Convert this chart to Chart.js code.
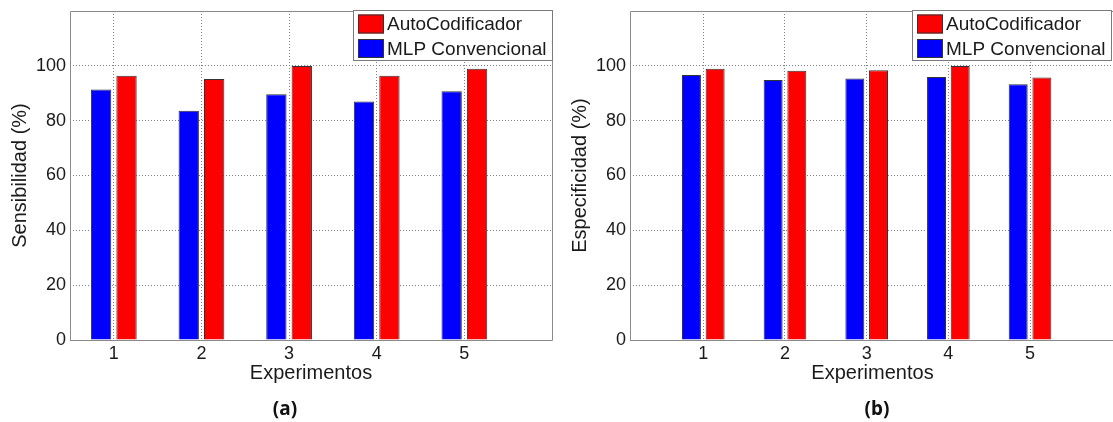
<!DOCTYPE html>
<html>
<head>
<meta charset="utf-8">
<script src="https://cdn.jsdelivr.net/npm/chart.js@4.4.1/dist/chart.umd.min.js"></script>
<style>
html, body { margin: 0; padding: 0; background: #fff; overflow: hidden; width: 1113px; height: 422px; }
.panel { position: absolute; top: 0; height: 422px; }
#panelA { left: 0; width: 560px; }
#panelB { left: 560px; width: 580px; }
</style>
</head>
<body>
<div class="panel" id="panelA"><canvas id="chartA"></canvas></div>
<div class="panel" id="panelB"><canvas id="chartB"></canvas></div>
<script>
// data
var experimentos = [1, 2, 3, 4, 5];
var sensAuto = [96.4, 95.2, 99.9, 96.4, 98.9];
var sensMLP  = [91.4, 83.6, 89.6, 87.0, 90.7];
var espAuto  = [98.9, 98.2, 98.4, 99.9, 95.7];
var espMLP   = [96.7, 94.8, 95.4, 95.9, 93.3];
var yTicks = [0, 20, 40, 60, 80, 100];

var FONT = '"Liberation Sans", Arial, sans-serif';
var TEXT = '#1a1a1a';

// frame round the plot area (right side is cut off in panel b)
var plotBox = {
  id: 'plotBox',
  beforeDatasetsDraw: function(chart, args, opts) {
    var a = chart.chartArea, ctx = chart.ctx;
    var l = Math.round(a.left) + 0.5, t = Math.round(a.top) + 0.5;
    var r = Math.round(a.right) + 0.5, b = Math.round(a.bottom) + 0.5;
    ctx.save();
    ctx.strokeStyle = '#8a8a8a';
    ctx.lineWidth = 1;
    ctx.beginPath();
    ctx.moveTo(r, t); ctx.lineTo(l, t); ctx.lineTo(l, b); ctx.lineTo(r, b);
    if (!opts.openRight) ctx.lineTo(r, t);
    ctx.stroke();
    ctx.restore();
  }
};

// boxed legend in the top right corner (matlab style)
var boxLegend = {
  id: 'boxLegend',
  afterDraw: function(chart, args, opts) {
    var ctx = chart.ctx, a = chart.chartArea;
    var items = chart.data.datasets.slice().reverse();
    ctx.save();
    ctx.font = '19px ' + FONT;
    var tw = Math.max.apply(null, items.map(function(d) { return ctx.measureText(d.label).width; }));
    var w = Math.round(5 + 26 + 3 + tw + 6), h = 50;
    var x = Math.round(a.right - opts.inset - w), y = Math.round(a.top - 1);
    ctx.fillStyle = '#fff';
    ctx.fillRect(x, y, w, h);
    ctx.strokeStyle = '#7a7a7a';
    ctx.lineWidth = 1;
    ctx.strokeRect(x + 0.5, y + 0.5, w, h);
    items.forEach(function(d, i) {
      var cy = y + 14 + i * 24.5;
      ctx.fillStyle = d.backgroundColor;
      ctx.fillRect(x + 5, cy - 9.5, 26, 19);
      ctx.strokeStyle = '#333';
      ctx.strokeRect(x + 5.5, cy - 9, 25, 18);
      ctx.fillStyle = TEXT;
      ctx.textBaseline = 'middle';
      ctx.fillText(d.label, x + 34, cy + 1);
    });
    ctx.restore();
  }
};

// (a) / (b) under each panel
var caption = {
  id: 'caption',
  afterDraw: function(chart, args, opts) {
    var ctx = chart.ctx;
    ctx.save();
    ctx.font = 'bold 19px "Noto Sans", sans-serif';
    ctx.fillStyle = '#111';
    ctx.textAlign = 'center';
    ctx.textBaseline = 'middle';
    ctx.fillText(opts.text, opts.x, opts.y);
    ctx.restore();
  }
};

function makeChart(id, mlp, auto, yTitle, xMin, xMax, capText, capX, inset, padRight, openRight) {
  var ctx = document.getElementById(id).getContext('2d');
  return new Chart(ctx, {
    type: 'bar',
    data: {
      labels: experimentos,
      datasets: [{
        label: 'MLP Convencional',
        data: mlp,
        backgroundColor: '#0000ff',
        borderColor: '#333',
        borderWidth: 1
      }, {
        label: 'AutoCodificador',
        data: auto,
        backgroundColor: '#ff0000',
        borderColor: '#333',
        borderWidth: 1
      }]
    },
    options: {
      responsive: true,
      maintainAspectRatio: false,
      animation: false,
      categoryPercentage: 0.58,
      barPercentage: 0.8,
      layout: { padding: { top: 11, right: padRight, left: 0, bottom: 0 } },
      plugins: {
        legend: { display: false },
        tooltip: { enabled: false },
        plotBox: { openRight: openRight },
        boxLegend: { inset: inset },
        caption: { text: capText, x: capX, y: 410 }
      },
      scales: {
        x: {
          type: 'linear',
          min: xMin,
          max: xMax,
          offset: false,
          afterBuildTicks: function(s) { s.ticks = experimentos.map(function(v) { return { value: v }; }); },
          afterFit: function(s) { s.height = 82; s.paddingLeft = 0; s.paddingRight = 0; },
          grid: { offset: false, color: '#808080', lineWidth: 1, drawTicks: false },
          border: { display: false, dash: [1, 2] },
          ticks: { color: TEXT, font: { family: FONT, size: 18 }, padding: 3, maxRotation: 0, autoSkip: false },
          title: { display: true, text: 'Experimentos', color: TEXT, font: { family: FONT, size: 20 }, padding: { top: 0, bottom: 37 } }
        },
        y: {
          min: 0,
          max: 120,
          afterBuildTicks: function(s) { s.ticks = yTicks.map(function(v) { return { value: v }; }); },
          afterFit: function(s) { s.width = 70; s.paddingTop = 0; s.paddingBottom = 0; },
          grid: { color: '#808080', lineWidth: 1, drawTicks: false },
          border: { display: false, dash: [1, 2] },
          ticks: { color: TEXT, font: { family: FONT, size: 18 }, padding: 4 },
          title: { display: true, text: yTitle, color: TEXT, font: { family: FONT, size: 20 }, padding: { top: 8, bottom: 0 } }
        }
      }
    },
    plugins: [plotBox, boxLegend, caption]
  });
}

makeChart('chartA', sensMLP, sensAuto, 'Sensibilidad (%)', 0.5, 6.0, '(a)', 285, 0, 8, false);
makeChart('chartB', espMLP, espAuto, 'Especificidad (%)', 0.1026, 6.04, '(b)', 317, 4, 25, true);
</script>
</body>
</html>
